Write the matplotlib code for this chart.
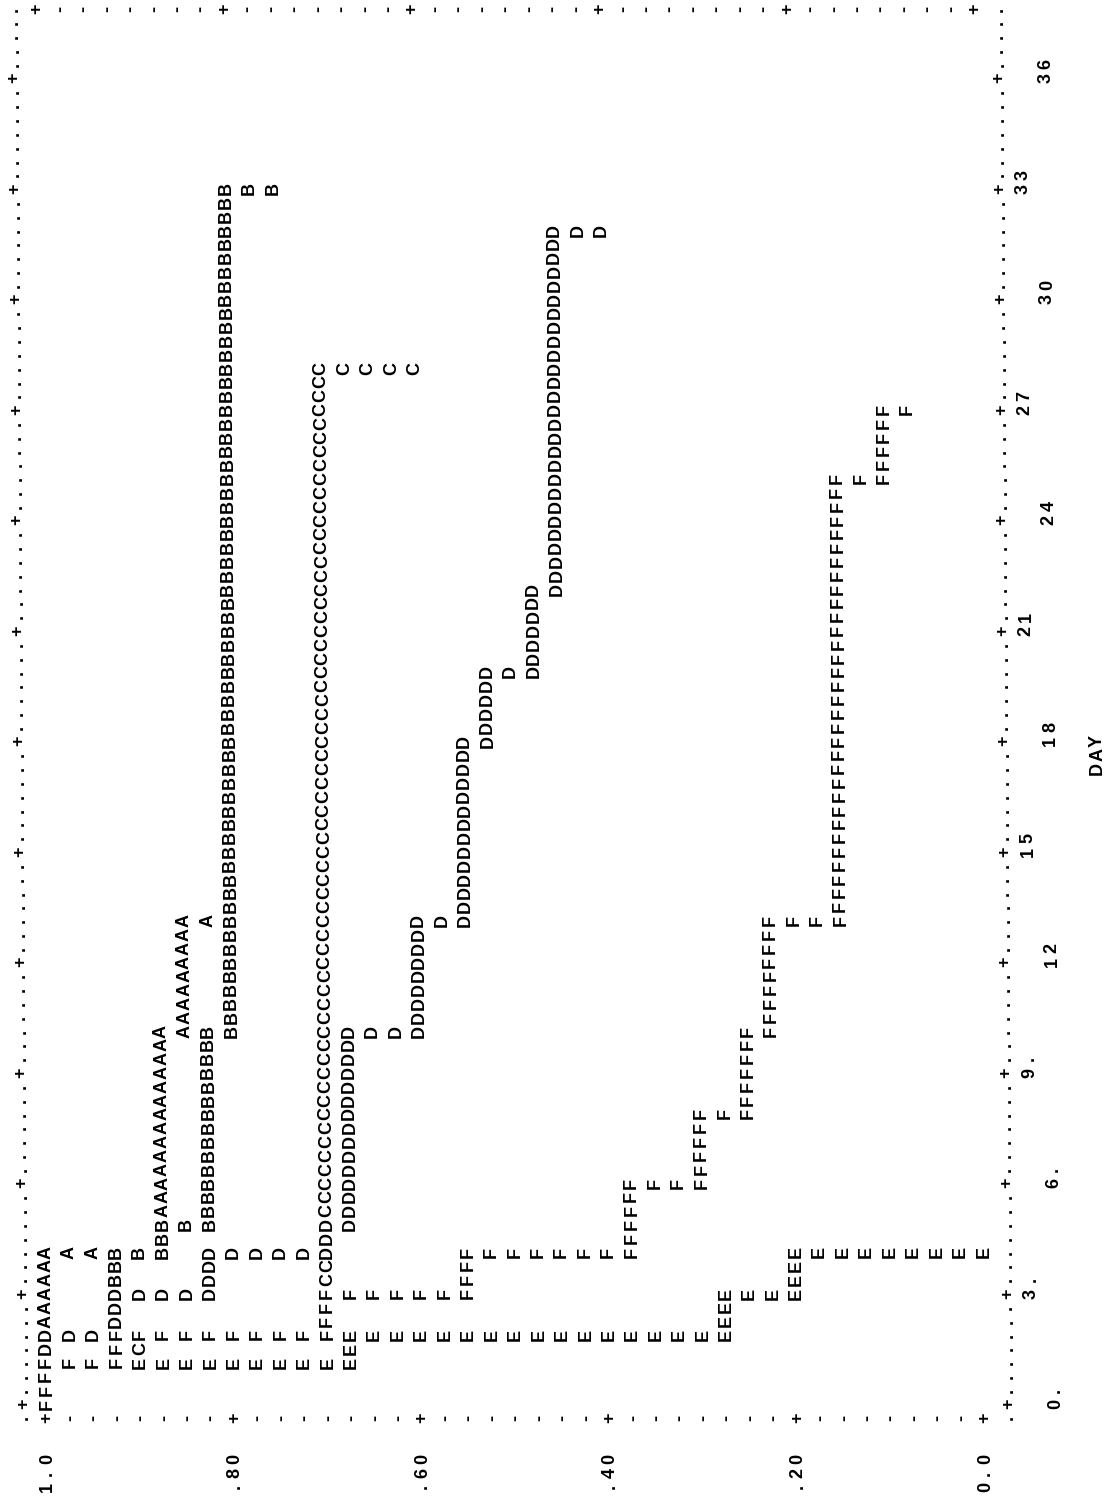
import matplotlib
matplotlib.use('Agg')
import matplotlib.pyplot as plt
from matplotlib.transforms import Affine2D

# survival step functions per group: day of each drop and survival after it
A_days = [4, 10, 13]
A_surv = [0.875, 0.85, 0.825]
A_last = 13

B_days = [2, 4, 5, 10, 33]
B_surv = [0.925, 0.875, 0.825, 0.80, 0.75]
B_last = 33

C_days = [1, 2, 28]
C_surv = [0.90, 0.70, 0.60]
C_last = 28

D_days = [2, 3, 4, 5, 10, 13, 18, 20, 22, 32]
D_surv = [0.925, 0.825, 0.70, 0.675, 0.60, 0.55, 0.525, 0.475, 0.45, 0.40]
D_last = 32

E_days = [1, 2, 3, 4]
E_surv = [0.675, 0.275, 0.20, 0.0]
E_last = 4

F_days = [1, 2, 3, 4, 6, 8, 10, 13, 25, 27]
F_surv = [0.925, 0.70, 0.55, 0.375, 0.30, 0.25, 0.225, 0.15, 0.10, 0.075]
F_last = 27

# later groups overprint earlier ones
GROUPS = ['A', 'B', 'C', 'D', 'E', 'F']
CURVES = {
    'A': (A_days, A_surv, A_last),
    'B': (B_days, B_surv, B_last),
    'C': (C_days, C_surv, C_last),
    'D': (D_days, D_surv, D_last),
    'E': (E_days, E_surv, E_last),
    'F': (F_days, F_surv, F_last),
}

DAY_TICKS = [0, 3, 6, 9, 12, 15, 18, 21, 24, 27, 30, 33, 36]
SURV_TICKS = [1.0, 0.8, 0.6, 0.4, 0.2, 0.0]
SURV_LABELS = ['1.0', '.80', '.60', '.40', '.20', '0.0']

# printer grid: one column = 3/8 day, one line = 0.025 of survival
DAY_STEP = 0.375
SURV_STEP = 0.025
N_COLS = 100
N_ROWS = 40

fig = plt.figure(figsize=(11.09, 15.10), dpi=100)
ax = fig.add_axes([0, 0, 1, 1])
ax.set_xlim(1.0501, -0.1322)
ax.set_ylim(-2.878, 38.12)
ax.axis('off')

# paper fed slightly crooked: shear everything a little to the left going up
shear = Affine2D([[1, -10 / 1408, 10 * 94 / 1408], [0, 1, 0], [0, 0, 1]])
trans = ax.transData + shear


def put(row, col, ch):
    s = 1.0 - row * SURV_STEP
    d = col * DAY_STEP
    ax.text(s, d, ch, transform=trans, rotation=90, rotation_mode='anchor',
            ha='center', va='center', fontsize=13, fontweight='bold',
            family=['Liberation Sans', 'DejaVu Sans'], color='black')


def to_row(s):
    return int(round((1.0 - s) / SURV_STEP))


def to_col(d):
    return int(round(d / DAY_STEP))


# rasterise the step curves onto the character grid
grid = {}
for g in GROUPS:
    days, surv, last = CURVES[g]
    row = 0
    prev_col = 0
    for d, s in zip(days, surv):
        c = to_col(d)
        for cc in range(prev_col, c + 1):
            grid[(row, cc)] = g
        new_row = to_row(s)
        for rr in range(row, new_row + 1):
            grid[(rr, c)] = g
        row = new_row
        prev_col = c
    for cc in range(prev_col, to_col(last) + 1):
        grid[(row, cc)] = g

for (r, c), g in grid.items():
    put(r, c, g)

# frame
for r in range(-1, N_ROWS + 2):
    for c in (-1, N_COLS + 1):
        if r in (-1, N_ROWS + 1):
            put(r, c, '.')
        elif r % 8 == 0:
            put(r, c, '+')
        else:
            put(r, c, '-')
for c in range(0, N_COLS + 1):
    for r in (-1, N_ROWS + 1):
        put(r, c, '+' if c % 8 == 0 else '.')

# survival tick labels, one character per print position
for s, lab in zip(SURV_TICKS, SURV_LABELS):
    for i, ch in enumerate(lab):
        put(to_row(s), -6 + i, ch)

# day tick labels, staggered over two lines
for i, d in enumerate(DAY_TICKS):
    lab = f'{d}.' if d < 10 else str(d)
    row = N_ROWS + 3 if i % 2 == 0 else N_ROWS + 2
    for j, ch in enumerate(lab):
        put(row, to_col(d) + j, ch)

for j, ch in enumerate('DAY'):
    put(N_ROWS + 5, 46 + j, ch)

fig.savefig('out.png', dpi=100)
